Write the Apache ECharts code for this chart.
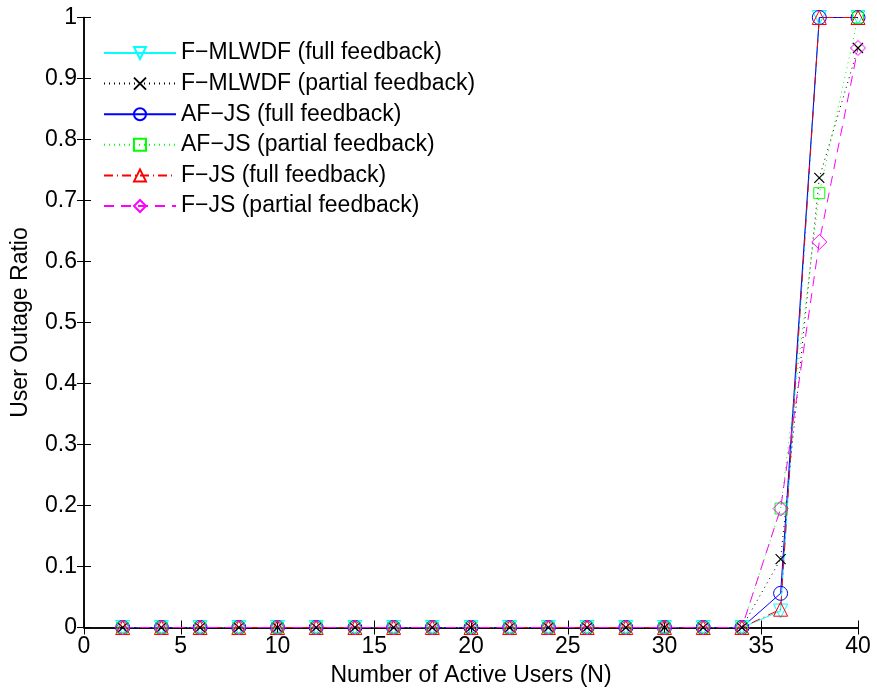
<!DOCTYPE html>
<html>
<head>
<meta charset="utf-8">
<script src="https://cdn.jsdelivr.net/npm/echarts@6/dist/echarts.min.js"></script>
<style>
  html, body { margin: 0; padding: 0; background: #fff; }
  #chart { width: 877px; height: 695px; }
</style>
</head>
<body>
<div id="chart"></div>
<script>
// Number of active users
const usersN = [2, 4, 6, 8, 10, 12, 14, 16, 18, 20, 22, 24, 26, 28, 30, 32, 34, 36, 38, 40];

// User outage ratio per scheduler
const fmlwdfFull    = [0,0,0,0,0,0,0,0,0,0,0,0,0,0,0,0,0, 0.027, 1.0,   1.0];
const fmlwdfPartial = [0,0,0,0,0,0,0,0,0,0,0,0,0,0,0,0,0, 0.112, 0.737, 0.95];
const afjsFull      = [0,0,0,0,0,0,0,0,0,0,0,0,0,0,0,0,0, 0.056, 1.0,   1.0];
const afjsPartial   = [0,0,0,0,0,0,0,0,0,0,0,0,0,0,0,0,0, 0.195, 0.712, 1.0];
const fjsFull       = [0,0,0,0,0,0,0,0,0,0,0,0,0,0,0,0,0, 0.03,  1.0,   1.0];
const fjsPartial    = [0,0,0,0,0,0,0,0,0,0,0,0,0,0,0,0,0, 0.195, 0.632, 0.95];

const seriesNames = [
  'F\u2212MLWDF (full feedback)',
  'F\u2212MLWDF (partial feedback)',
  'AF\u2212JS (full feedback)',
  'AF\u2212JS (partial feedback)',
  'F\u2212JS (full feedback)',
  'F\u2212JS (partial feedback)'
];

const FONT = '"Liberation Sans", Arial, Helvetica, sans-serif';
const FS = 23;
const crossPath = 'path://M0,0L10,10M10,0L0,10';

function pairs(vals) { return usersN.map((n, i) => [n, vals[i]]); }

function makeSeries(name, vals, color, dash, symbol, size, rotate) {
  return {
    name: name,
    type: 'line',
    xAxisIndex: 0,
    yAxisIndex: 0,
    data: pairs(vals),
    symbol: symbol,
    symbolSize: size,
    symbolRotate: rotate || 0,
    showAllSymbol: true,
    animation: false,
    lineStyle: { color: color, width: 1, type: dash },
    itemStyle: { color: 'rgba(0,0,0,0)', borderColor: color, borderWidth: 1 },
    emphasis: { disabled: true }
  };
}

const series = [
  makeSeries(seriesNames[0], fmlwdfFull,    '#00ffff', 'solid',        'triangle', 14, 180),
  makeSeries(seriesNames[1], fmlwdfPartial, '#000000', [1, 4],         crossPath,  10),
  makeSeries(seriesNames[2], afjsFull,      '#0000ff', 'solid',        'circle',   14),
  makeSeries(seriesNames[3], afjsPartial,   '#00ff00', [1, 4],         'rect',     11),
  makeSeries(seriesNames[4], fjsFull,       '#ff0000', [9, 4, 1, 4],   'triangle', 14),
  makeSeries(seriesNames[5], fjsPartial,    '#ff00ff', [10, 7],        'diamond',  15)
];
// cross marker is drawn as strokes only
series[1].itemStyle = { color: 'rgba(0,0,0,0)', borderColor: '#000', borderWidth: 1.2 };

const tickLabel = { fontFamily: FONT, fontSize: FS, color: '#000' };
const axisLine = { show: true, lineStyle: { color: '#000', width: 1.5 } };

const chart = echarts.init(document.getElementById('chart'), null, { renderer: 'canvas' });
chart.setOption({
  backgroundColor: '#fff',
  animation: false,
  grid: { left: 84, right: 19, top: 17.5, bottom: 67.5, containLabel: false },
  legend: {
    orient: 'vertical',
    left: 98,
    top: 36,
    itemWidth: 72,
    itemHeight: 15,
    itemGap: 6.6,
    textStyle: { fontFamily: FONT, fontSize: FS, color: '#000', lineHeight: 24 },
    data: seriesNames,
    selectedMode: false
  },
  xAxis: [
    {
      type: 'value', min: 0, max: 40, interval: 5, position: 'bottom',
      name: 'Number of Active Users (N)', nameLocation: 'middle', nameGap: 37,
      nameTextStyle: { fontFamily: FONT, fontSize: FS, color: '#000' },
      axisLine: axisLine,
      axisTick: { show: true, inside: true, length: 7, lineStyle: { color: '#000', width: 1 } },
      axisLabel: Object.assign({ margin: 8 }, tickLabel),
      splitLine: { show: false }
    },
    {
      type: 'value', min: 0, max: 40, interval: 5, position: 'top',
      axisLine: axisLine,
      axisTick: { show: true, inside: true, length: 7, lineStyle: { color: '#000', width: 1 } },
      axisLabel: { show: false },
      splitLine: { show: false }
    }
  ],
  yAxis: [
    {
      type: 'value', min: 0, max: 1, interval: 0.1, position: 'left',
      name: 'User Outage Ratio', nameLocation: 'middle', nameGap: 52,
      nameTextStyle: { fontFamily: FONT, fontSize: FS, color: '#000' },
      axisLine: axisLine,
      axisTick: { show: true, inside: true, length: 7, lineStyle: { color: '#000', width: 1 } },
      axisLabel: Object.assign({ margin: 7, formatter: v => (Math.round(v * 10) / 10).toString() }, tickLabel),
      splitLine: { show: false }
    },
    {
      type: 'value', min: 0, max: 1, interval: 0.1, position: 'right',
      axisLine: axisLine,
      axisTick: { show: true, inside: true, length: 7, lineStyle: { color: '#000', width: 1 } },
      axisLabel: { show: false },
      splitLine: { show: false }
    }
  ],
  series: series
});
</script>
</body>
</html>
